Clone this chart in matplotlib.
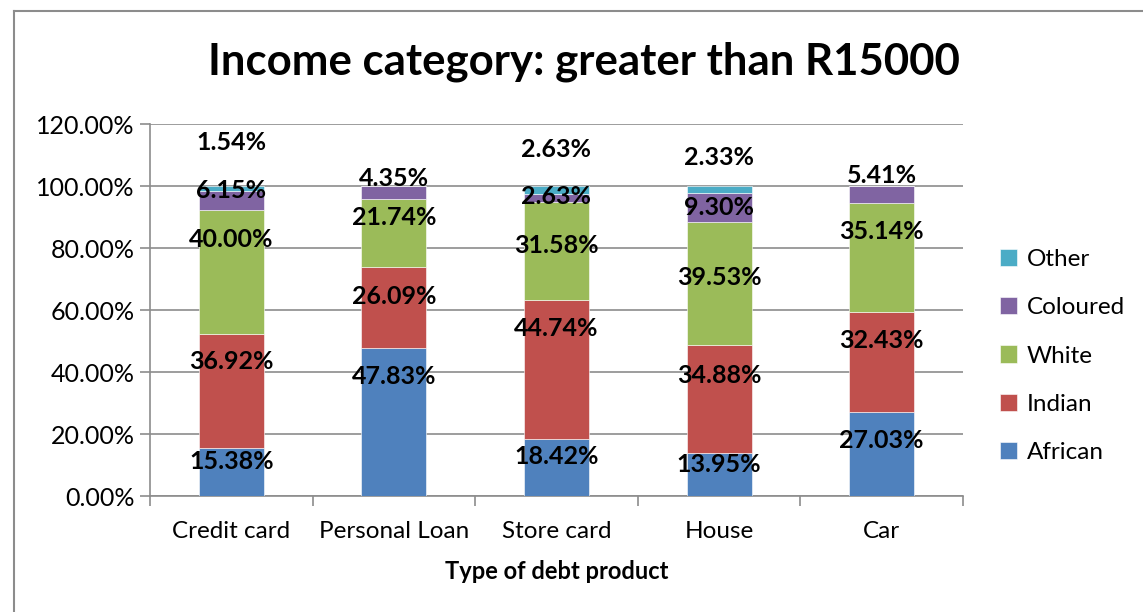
import numpy as np
import matplotlib
matplotlib.use("Agg")
import matplotlib.pyplot as plt
from matplotlib.ticker import FuncFormatter
from matplotlib.lines import Line2D

plt.rcParams['font.family'] = ['Lato', 'DejaVu Sans']

# Datos
productos = ['Credit card', 'Personal Loan', 'Store card', 'House', 'Car']
african = [15.38, 47.83, 18.42, 13.95, 27.03]
indian = [36.92, 26.09, 44.74, 34.88, 32.43]
white = [40.00, 21.74, 31.58, 39.53, 35.14]
coloured = [6.15, 4.35, 2.63, 9.30, 5.41]
other = [1.54, 0.0, 2.63, 2.33, 0.0]

series = [('African', african, '#4F81BD'),
          ('Indian', indian, '#C0504D'),
          ('White', white, '#9BBB59'),
          ('Coloured', coloured, '#8064A2'),
          ('Other', other, '#4BACC6')]

# desplazamiento de etiquetas (las movieron a mano en el original)
desp = {'African': [3.3, 14.5, 3.4, 3.3, 4.5],
        'Indian': [9.4, 3.6, 13.4, 7.6, 6.8],
        'White': [10.6, 5.2, 1.7, 2.0, 8.2],
        'Coloured': [3.3, 4.5, 0.4, 0.2, 6.2],
        'Other': [14.7, 0, 13.0, 10.5, 0]}

fig = plt.figure(figsize=(11.43, 6.12), dpi=100)
ax = fig.add_axes([150/1143, 1 - 496/612, (963 - 150)/1143, (496 - 124)/612])

x = np.arange(len(productos))
base = np.zeros(len(productos))
for nombre, vals, color in series:
    vals = np.array(vals)
    ax.bar(x, vals, 0.4, bottom=base, color=color, label=nombre, zorder=3,
           edgecolor='white', linewidth=0.4)
    for i, v in enumerate(vals):
        if v > 0:
            ax.text(x[i], base[i] + v / 2 + desp[nombre][i], '%.2f%%' % v,
                    ha='center', va='center', fontsize=18, fontweight='bold', zorder=5)
    base = base + vals

ax.set_xlim(-0.5, len(productos) - 0.5)
ax.set_ylim(0, 120)
ax.set_yticks(np.arange(0, 121, 20))
ax.yaxis.set_major_formatter(FuncFormatter(lambda v, p: '%.2f%%' % v))
ax.grid(axis='y', color='#8c8c8c', linewidth=1.2, zorder=0)
ax.set_xticks(x)
ax.set_xticklabels(productos)
ax.set_xticks(np.arange(-0.5, len(productos)), minor=True)
ax.tick_params(axis='x', which='major', length=0, pad=18, labelsize=17.5)
ax.tick_params(axis='x', which='minor', length=7, color='#8c8c8c', width=1.2)
ax.tick_params(axis='y', length=7, color='#8c8c8c', width=1.2, labelsize=18, pad=4)
for s in ['top', 'right']:
    ax.spines[s].set_visible(False)
for s in ['left', 'bottom']:
    ax.spines[s].set_color('#8c8c8c')
    ax.spines[s].set_linewidth(1.2)

ax.set_xlabel('Type of debt product', fontsize=17, fontweight='bold', labelpad=13)
fig.text(584/1143, 1 - 62/612, 'Income category: greater than R15000',
         ha='center', va='center', fontsize=31.5, fontweight='bold')

handles, labels = ax.get_legend_handles_labels()
leg = fig.legend(handles[::-1], labels[::-1], loc='center left',
                 bbox_to_anchor=(978/1143, 1 - 356/612), frameon=False,
                 fontsize=17.5, handlelength=0.7, handleheight=0.7,
                 handletextpad=0.4, labelspacing=1.12)

# marco del grafico
fig.add_artist(Line2D([14/1143, 14/1143], [0, 1 - 11/612], color='#8c8c8c', lw=1.5))
fig.add_artist(Line2D([14/1143, 1], [1 - 11/612, 1 - 11/612], color='#8c8c8c', lw=1.5))

fig.savefig('out.png', dpi=100)
